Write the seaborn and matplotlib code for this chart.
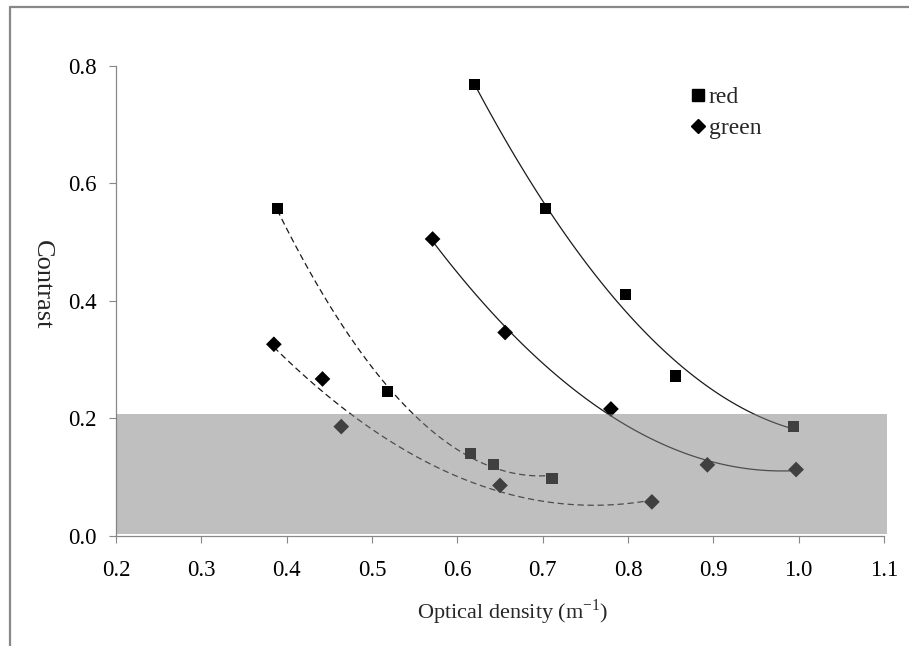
import matplotlib
matplotlib.use("Agg")
import matplotlib.pyplot as plt
from matplotlib.lines import Line2D
import numpy as np
import pandas as pd
import seaborn as sns

# values
red_solid_x = [0.620, 0.703, 0.797, 0.856, 0.994]
red_solid_y = [0.768, 0.557, 0.410, 0.272, 0.186]
green_solid_x = [0.571, 0.656, 0.780, 0.893, 0.997]
green_solid_y = [0.505, 0.346, 0.216, 0.121, 0.113]
red_dashed_x = [0.389, 0.518, 0.615, 0.642, 0.711]
red_dashed_y = [0.557, 0.245, 0.141, 0.122, 0.098]
green_dashed_x = [0.385, 0.442, 0.464, 0.650, 0.828]
green_dashed_y = [0.326, 0.267, 0.186, 0.086, 0.058]

x_ticks = [0.2, 0.3, 0.4, 0.5, 0.6, 0.7, 0.8, 0.9, 1.0, 1.1]
y_ticks = [0.0, 0.2, 0.4, 0.6, 0.8]
band_top = 0.207


def build_frame():
    parts = []
    for xs, ys, chan, grp in [(red_solid_x, red_solid_y, "red", "solid"),
                              (green_solid_x, green_solid_y, "green", "solid"),
                              (red_dashed_x, red_dashed_y, "red", "dashed"),
                              (green_dashed_x, green_dashed_y, "green", "dashed")]:
        parts.append(pd.DataFrame({"od": xs, "contrast": ys, "channel": chan, "fit": grp}))
    return pd.concat(parts, ignore_index=True)


sns.set_style("white")
plt.rcParams["font.family"] = ["Liberation Serif", "DejaVu Serif"]
plt.rcParams["mathtext.fontset"] = "custom"
plt.rcParams["mathtext.rm"] = "Liberation Serif"

df = build_frame()

fig = plt.figure(figsize=(9.09, 6.46), dpi=100)
ax = fig.add_axes([0.1276, 0.1703, 0.8449, 0.7283])

# polynomial trend lines (2nd order, like the spreadsheet trendlines)
for (chan, grp), sub in df.groupby(["channel", "fit"]):
    sns.regplot(data=sub, x="od", y="contrast", order=2, ci=None, scatter=False, ax=ax,
                line_kws=dict(color="#1a1a1a", lw=0.9,
                              ls="-" if grp == "solid" else (0, (5, 3))))

sns.scatterplot(data=df, x="od", y="contrast", style="channel",
                markers={"red": "s", "green": "D"}, color="black",
                s=64, edgecolor="none", legend=False, ax=ax, zorder=3)

# grey band over the low-contrast region
ax.axhspan(0.004, band_top, xmin=0, xmax=1.004, color="#808080", alpha=0.5,
           lw=0, zorder=4, clip_on=False)

ax.set_xlim(0.2, 1.1)
ax.set_ylim(0.0, 0.8)
ax.set_xticks(x_ticks)
ax.set_yticks(y_ticks)
ax.set_xticklabels([f"{v:.1f}" for v in x_ticks])
ax.set_yticklabels([f"{v:.1f}" for v in y_ticks])
ax.tick_params(axis="both", direction="out", length=5, width=0.8, color="#888888",
               labelsize=16.5, labelcolor="black")
ax.tick_params(axis="x", pad=12)
ax.tick_params(axis="y", pad=9)
ax.xaxis.set_ticks_position("bottom")
ax.yaxis.set_ticks_position("left")

sns.despine(ax=ax)
for side in ["left", "bottom"]:
    ax.spines[side].set_color("#888888")
    ax.spines[side].set_linewidth(0.9)

ax.set_xlabel("Optical density (m$^{\\mathregular{-1}}$)", fontsize=16)
ax.set_ylabel("Contrast", fontsize=19, rotation=270)
ax.xaxis.set_label_coords(0.517, -0.162)
ax.xaxis.label.set_va("center")
ax.yaxis.set_label_coords(-0.097, 0.533)
ax.yaxis.label.set_va("center")
ax.yaxis.label.set_ha("center")

handles = [Line2D([], [], ls="none", marker="s", color="black", markersize=8.5, label="red"),
           Line2D([], [], ls="none", marker="D", color="black", markersize=7, label="green")]
ax.legend(handles=handles, loc="upper left", bbox_to_anchor=(0.749, 0.955),
          frameon=False, fontsize=17, handlelength=0.6, handletextpad=0.15,
          labelspacing=0.4, borderaxespad=0, borderpad=0)

# outer frame lines (top and left) of the chart area
fig.add_artist(Line2D([0.011, 1.0], [0.989, 0.989], color="#888888", lw=1.6))
fig.add_artist(Line2D([0.011, 0.011], [0.0, 0.989], color="#888888", lw=1.6))

fig.savefig("out.png", dpi=100)
plt.close(fig)
